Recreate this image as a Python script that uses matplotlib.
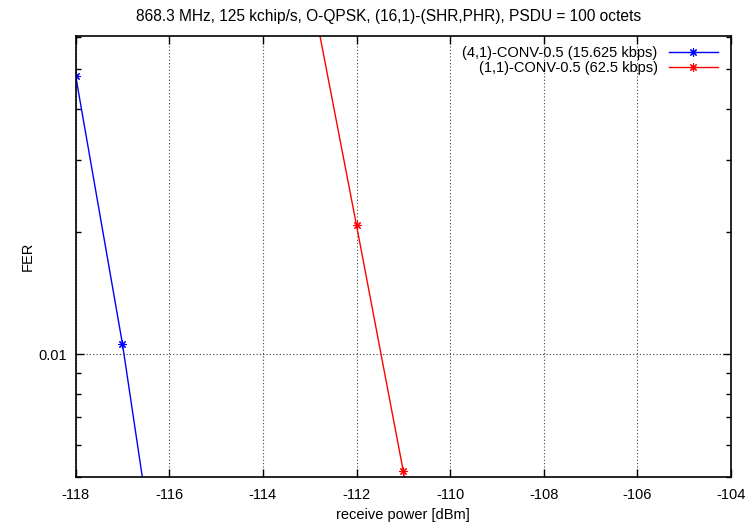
import matplotlib
matplotlib.use("Agg")
import matplotlib.pyplot as plt
from matplotlib.ticker import FixedLocator, NullFormatter, FixedFormatter

plt.rcParams['font.family'] = ['Liberation Sans', 'DejaVu Sans']
plt.rcParams['axes.unicode_minus'] = False

# receive power [dBm] vs FER
power_conv41 = [-118, -117, -116]
fer_conv41 = [0.0482, 0.0106, 0.0018]

power_conv11 = [-113, -112, -111, -110]
fer_conv11 = [0.0815, 0.0207, 0.00516, 0.0012]

label_conv41 = "(4,1)-CONV-0.5 (15.625 kbps)"
label_conv11 = "(1,1)-CONV-0.5 (62.5 kbps)"

x_ticks = [-118, -116, -114, -112, -110, -108, -106, -104]
y_major = [0.01]
y_minor = [0.005, 0.006, 0.007, 0.008, 0.009, 0.02, 0.03, 0.04, 0.05, 0.06]

fig = plt.figure(figsize=(7.49, 5.23), dpi=100)
ax = fig.add_axes([0.101, 0.088, 0.875, 0.843])

asterisk = (8, 2, 0)
ax.plot(power_conv41, fer_conv41, color='#0000ff', lw=1, marker=asterisk, ms=6, mew=0.8,
        label=label_conv41)
ax.plot(power_conv11, fer_conv11, color='#ff0000', lw=1, marker=asterisk, ms=6, mew=0.8,
        label=label_conv11)

ax.set_yscale('log')
ax.set_xlim(-118, -104)
ax.set_ylim(0.005, 0.0603)

ax.xaxis.set_major_locator(FixedLocator(x_ticks))
ax.yaxis.set_major_locator(FixedLocator(y_major))
ax.yaxis.set_major_formatter(FixedFormatter(['0.01']))
ax.yaxis.set_minor_locator(FixedLocator(y_minor))
ax.yaxis.set_minor_formatter(NullFormatter())

ax.tick_params(which='both', direction='in', top=True, right=True, labelsize=10.5)
ax.tick_params(which='major', length=6, width=1)
ax.tick_params(which='minor', length=3.5, width=1)
ax.tick_params(axis='x', pad=8)
ax.tick_params(axis='y', pad=6)

ax.grid(True, which='major', color='#444444', linestyle=(0, (1, 2)), linewidth=0.8)

for s in ax.spines.values():
    s.set_linewidth(1.2)

ax.set_xlabel("receive power [dBm]", fontsize=10.5, labelpad=4)
ax.set_ylabel("FER", fontsize=10.5, labelpad=3)
ax.set_title("868.3 MHz, 125 kchip/s, O-QPSK, (16,1)-(SHR,PHR), PSDU = 100 octets",
             fontsize=11.2, pad=11, x=0.477)

ax.legend(loc='upper right', frameon=False, markerfirst=False, fontsize=10.5,
          handlelength=3.3, labelspacing=0.05, borderaxespad=0.3,
          bbox_to_anchor=(0.995, 1.0))

fig.savefig("out.png", dpi=100)
